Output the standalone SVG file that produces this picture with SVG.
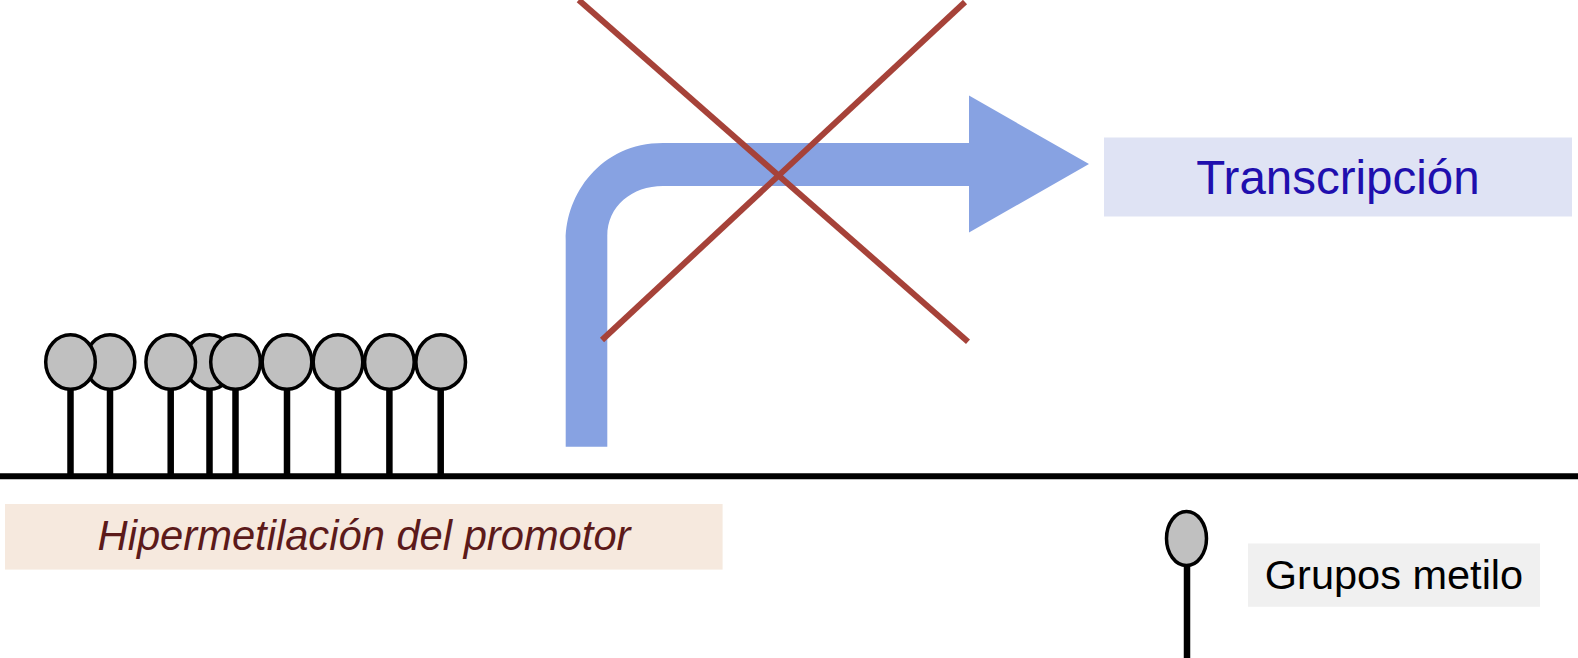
<svg xmlns="http://www.w3.org/2000/svg" width="1578" height="658" viewBox="0 0 1578 658">
<style>
.stem{stroke:#000;stroke-width:6.5}
.bead{fill:#c0c0c0;stroke:#000;stroke-width:3.5}
.lbl{font-family:"Liberation Sans",Arial,Helvetica,sans-serif}
</style>
<rect width="1578" height="658" fill="#fff"/>
<g id="dna">
<line x1="0" y1="476.3" x2="1578" y2="476.3" stroke="#000" stroke-width="6"/>
</g>
<g id="methyl-groups">
<line class="stem" x1="209.5" y1="388" x2="209.5" y2="476"/>
<ellipse class="bead" cx="209.5" cy="362" rx="24.8" ry="27.2"/>
<line class="stem" x1="110" y1="388" x2="110" y2="476"/>
<ellipse class="bead" cx="110" cy="362" rx="24.8" ry="27.2"/>
<line class="stem" x1="70.5" y1="388" x2="70.5" y2="476"/>
<ellipse class="bead" cx="70.5" cy="362" rx="24.8" ry="27.2"/>
<line class="stem" x1="170.7" y1="388" x2="170.7" y2="476"/>
<ellipse class="bead" cx="170.7" cy="362" rx="24.8" ry="27.2"/>
<line class="stem" x1="235.5" y1="388" x2="235.5" y2="476"/>
<ellipse class="bead" cx="235.5" cy="362" rx="24.8" ry="27.2"/>
<line class="stem" x1="287" y1="388" x2="287" y2="476"/>
<ellipse class="bead" cx="287" cy="362" rx="24.8" ry="27.2"/>
<line class="stem" x1="338" y1="388" x2="338" y2="476"/>
<ellipse class="bead" cx="338" cy="362" rx="24.8" ry="27.2"/>
<line class="stem" x1="389.4" y1="388" x2="389.4" y2="476"/>
<ellipse class="bead" cx="389.4" cy="362" rx="24.8" ry="27.2"/>
<line class="stem" x1="440.7" y1="388" x2="440.7" y2="476"/>
<ellipse class="bead" cx="440.7" cy="362" rx="24.8" ry="27.2"/>
</g>
<g id="connectors">
<path id="transcription-arrow" fill="#87a2e2" d="M565.7 446.7 V240 C565.7 195 600 143 663 143 H969 V95.6 L1089 164 L969 232.5 V186 H663 C632 186 607.3 206 607.3 236 V446.7 Z"/>
<g id="block-cross" stroke="#a64239" stroke-width="6">
<line x1="578.7" y1="0" x2="968" y2="341.7"/>
<line x1="965" y1="2" x2="602" y2="340"/>
</g>
</g>
<g id="transcripcion">
<rect x="1104" y="137.5" width="468" height="79" fill="#dfe3f4"/>
<text class="lbl" x="1338" y="194" font-size="47.5" fill="#1f0fae" text-anchor="middle">Transcripción</text>
</g>
<g id="hipermetilacion">
<rect x="5" y="504" width="717.6" height="65.6" fill="#f6e9de"/>
<text class="lbl" x="364" y="549.5" font-size="41.7" font-style="italic" fill="#5c1a1a" text-anchor="middle">Hipermetilación del promotor</text>
</g>
<g id="legend">
<line class="stem" x1="1187" y1="564" x2="1187" y2="658"/>
<ellipse class="bead" cx="1186.5" cy="538.5" rx="20" ry="27"/>
<rect x="1248" y="543.5" width="292" height="63.3" fill="#f0f0f0"/>
<text class="lbl" x="1394" y="588.7" font-size="41.5" fill="#000" text-anchor="middle">Grupos metilo</text>
</g>
</svg>
